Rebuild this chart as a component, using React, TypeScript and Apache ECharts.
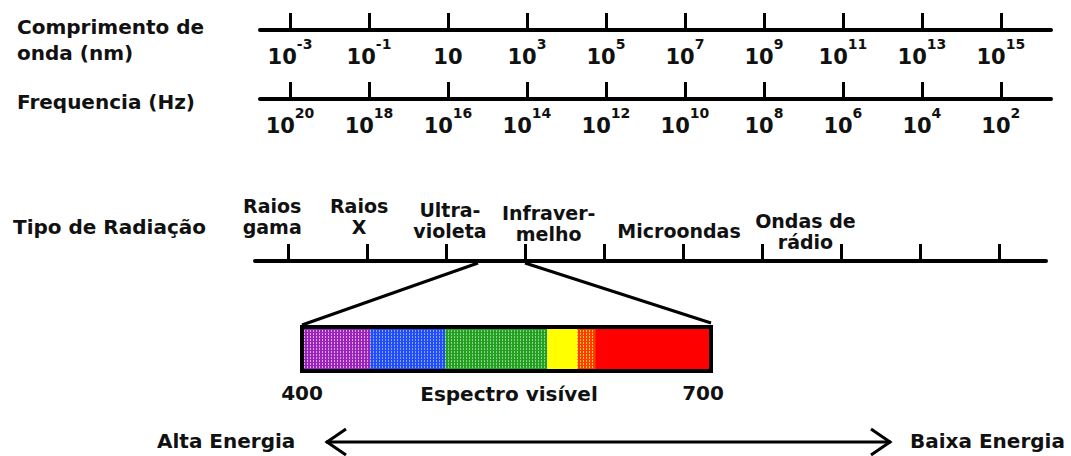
import { useEffect, useRef } from 'react';
import * as echarts from 'echarts';

// ---- data ----
const wavelengthExponents = [-3, -1, 1, 3, 5, 7, 9, 11, 13, 15]; // log10(nm)
const frequencyExponents = [20, 18, 16, 14, 12, 10, 8, 6, 4, 2]; // log10(Hz)
const radiationTypes = ['Raios\ngama', 'Raios\nX', 'Ultra-\nvioleta', 'Infraver-\nmelho', 'Microondas', 'Ondas de\nrádio'];
const radiationLog10nm = [-3.4, -1.2, 1.1, 3.6, 6.9, 10.1];
const visibleBands = ['Violeta', 'Azul', 'Verde', 'Amarelo', 'Laranja', 'Vermelho'];
const bandStartNm = [400, 450, 505, 580, 602, 615];
const bandEndNm = [450, 505, 580, 602, 615, 700];
const visibleRangeNm = [400, 700];

// ---- styles ----
const FONT = 'DejaVu Sans';
const INK = '#111';
const bandColors = ['#9c22bc', '#1f4dfb', '#22a020', '#ffff00', '#ff3a00', '#ff0000'];
const bandDotColors = ['rgba(255,255,255,0.6)', 'rgba(255,255,255,0.5)', 'rgba(255,255,255,0.5)', '', 'rgba(255,235,0,0.9)', ''];
const radiationLabelOffsets = [-24, -24, -20, -17, -20, -9];

function expLabel(v: number) {
  return v === 1 ? '{b|10}' : `{b|10}{s|${v}}`;
}

const powerRich = {
  b: { fontFamily: FONT, fontWeight: 'bold', fontSize: 21, color: INK, lineHeight: 30, verticalAlign: 'bottom' },
  s: { fontFamily: FONT, fontWeight: 'bold', fontSize: 14, color: INK, lineHeight: 12, verticalAlign: 'top' },
};

function dotPattern(base: string, dot: string) {
  if (!dot || typeof document === 'undefined') return base;
  const c = document.createElement('canvas');
  c.width = 3;
  c.height = 3;
  const ctx = c.getContext('2d');
  if (!ctx) return base;
  ctx.fillStyle = base;
  ctx.fillRect(0, 0, 3, 3);
  ctx.fillStyle = dot;
  ctx.fillRect(1, 0, 1, 2);
  return { image: c, repeat: 'repeat' };
}

function scaleAxis(gridIndex: number, min: number, max: number, ticks: number[], withLabels: boolean, inverse = false) {
  return {
    type: 'value',
    gridIndex,
    min,
    max,
    inverse,
    position: 'bottom',
    axisLine: { show: true, lineStyle: { color: '#000', width: 4 } },
    axisTick: { show: true, inside: true, length: 17, customValues: ticks, lineStyle: { color: '#000', width: 3 } },
    axisLabel: withLabels
      ? { show: true, customValues: ticks, margin: 7, formatter: (v: number) => expLabel(v), rich: powerRich }
      : { show: false },
    splitLine: { show: false },
  };
}

function hiddenY(gridIndex: number) {
  return { type: 'value', gridIndex, min: 0, max: 1, show: false };
}

export default function App() {
  const ref = useRef<HTMLDivElement>(null);

  useEffect(() => {
    if (!ref.current) return;
    const chart = echarts.init(ref.current, undefined, { renderer: 'svg' });

    const textStyle = (text: string, x: number, y: number, align = 'left') => ({
      type: 'text',
      x,
      y,
      silent: true,
      style: { text, fontFamily: FONT, fontWeight: 'bold', fontSize: 20, fill: INK, align, verticalAlign: 'middle' },
    });

    const fills = bandColors.map((c, i) => dotPattern(c, bandDotColors[i]));

    const option: any = {
      animation: false,
      backgroundColor: '#fff',
      grid: [
        { left: 260, width: 791, top: 29, height: 1, outerBoundsMode: 'none' },
        { left: 260, width: 791, top: 98, height: 1, outerBoundsMode: 'none' },
        { left: 255, width: 791, top: 260, height: 1, outerBoundsMode: 'none' },
        { left: 302, width: 409, top: 327, height: 44, outerBoundsMode: 'none' },
      ],
      xAxis: [
        scaleAxis(0, -3.76, 16.27, wavelengthExponents, true),
        scaleAxis(1, 0.73, 20.76, frequencyExponents, true, true),
        scaleAxis(2, -3.835, 16.19, wavelengthExponents, false),
        {
          type: 'value',
          gridIndex: 3,
          min: visibleRangeNm[0],
          max: visibleRangeNm[1],
          axisLine: { show: false },
          axisTick: { show: false },
          splitLine: { show: false },
          axisLabel: {
            show: true,
            customValues: visibleRangeNm,
            margin: 12,
            formatter: (v: number) => (v === visibleRangeNm[1] ? `{r|${v}}` : `{l|${v}}`),
            rich: {
              l: { fontFamily: FONT, fontWeight: 'bold', fontSize: 20, color: INK, lineHeight: 20 },
              r: { fontFamily: FONT, fontWeight: 'bold', fontSize: 20, color: INK, lineHeight: 20, padding: [0, 16, 0, 0] },
            },
          },
          name: 'Espectro visível',
          nameLocation: 'middle',
          nameGap: 13,
          nameMoveOverlap: false,
          nameTextStyle: { fontFamily: FONT, fontWeight: 'bold', fontSize: 20, color: INK, lineHeight: 20, padding: [0, 0, 0, 5] },
        },
      ],
      yAxis: [hiddenY(0), hiddenY(1), hiddenY(2), hiddenY(3)],
      series: [
        {
          type: 'scatter',
          xAxisIndex: 2,
          yAxisIndex: 2,
          symbolSize: 0,
          silent: true,
          itemStyle: { opacity: 1 },
          data: radiationLog10nm.map((v, i) => ({
            value: [v, 0],
            name: radiationTypes[i],
            label: { offset: [0, radiationLabelOffsets[i]] },
          })),
          label: {
            show: true,
            position: 'top',
            distance: 0,
            formatter: '{b}',
            fontFamily: FONT,
            fontWeight: 'bold',
            fontSize: 19,
            lineHeight: 21,
            color: INK,
            opacity: 1,
            align: 'center',
          },
        },
        {
          type: 'custom',
          xAxisIndex: 3,
          yAxisIndex: 3,
          encode: { x: [0, 1] },
          silent: true,
          data: visibleBands.map((name, i) => ({
            name,
            value: [bandStartNm[i], bandEndNm[i], i],
          })),
          renderItem: (params: any, api: any) => {
            const a = api.coord([api.value(0), 1]);
            const b = api.coord([api.value(1), 0]);
            const idx = api.value(2);
            return {
              type: 'rect',
              shape: { x: a[0], y: a[1], width: b[0] - a[0], height: b[1] - a[1] },
              style: { fill: fills[idx], stroke: null },
            };
          },
        },
        {
          type: 'custom',
          xAxisIndex: 3,
          yAxisIndex: 3,
          encode: { x: [0, 1] },
          silent: true,
          z: 5,
          data: [{ value: [visibleRangeNm[0], visibleRangeNm[1]] }],
          renderItem: (params: any, api: any) => {
            const a = api.coord([api.value(0), 1]);
            const b = api.coord([api.value(1), 0]);
            return {
              type: 'rect',
              shape: { x: a[0], y: a[1], width: b[0] - a[0], height: b[1] - a[1] },
              style: { fill: 'none', stroke: '#000', lineWidth: 4 },
            };
          },
        },
      ],
      graphic: [
        textStyle('Comprimento de', 17, 27),
        textStyle('onda (nm)', 17, 53),
        textStyle('Frequencia (Hz)', 17, 102),
        textStyle('Tipo de Radiação', 13, 227),
        textStyle('Alta Energia', 157, 441),
        textStyle('Baixa Energia', 910, 441),
        { type: 'line', silent: true, shape: { x1: 478, y1: 263, x2: 302, y2: 325 }, style: { stroke: '#000', lineWidth: 3 } },
        { type: 'line', silent: true, shape: { x1: 525, y1: 263, x2: 711, y2: 323 }, style: { stroke: '#000', lineWidth: 3 } },
        { type: 'line', silent: true, shape: { x1: 326, y1: 442, x2: 891, y2: 442 }, style: { stroke: '#000', lineWidth: 3 } },
        { type: 'polyline', silent: true, shape: { points: [[346, 429], [327, 442], [346, 455]] }, style: { stroke: '#000', lineWidth: 3, fill: 'none' } },
        { type: 'polyline', silent: true, shape: { points: [[871, 429], [890, 442], [871, 455]] }, style: { stroke: '#000', lineWidth: 3, fill: 'none' } },
      ],
    };

    chart.setOption(option);
    return () => chart.dispose();
  }, []);

  return <div ref={ref} style={{ position: 'absolute', left: 0, top: 0, width: 1071, height: 456, background: '#fff' }} />;
}
